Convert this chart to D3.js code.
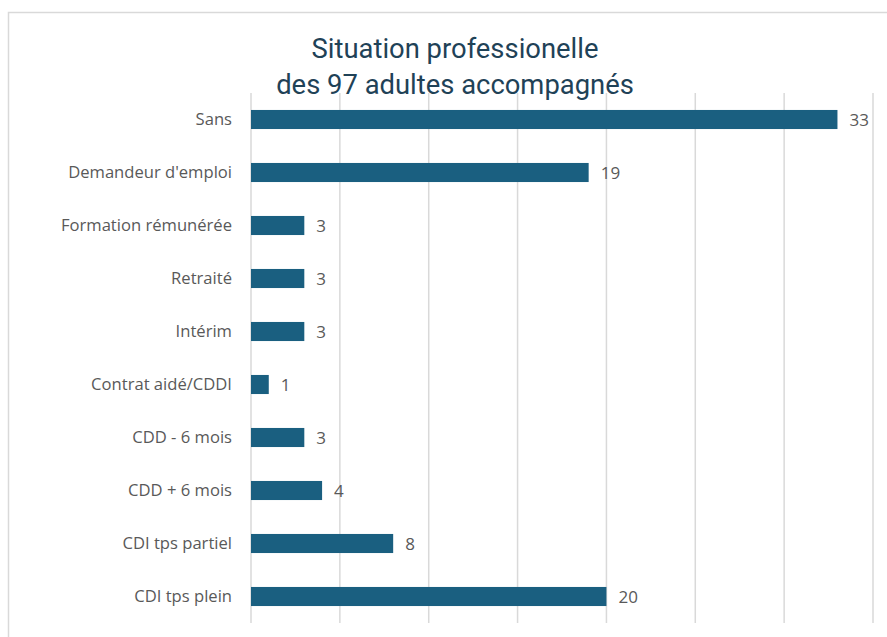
<!DOCTYPE html>
<html>
<head>
<meta charset="utf-8">
<script src="https://cdnjs.cloudflare.com/ajax/libs/d3/7.8.5/d3.min.js"></script>
<style>
	body { margin: 0; background: #fff; }
	svg { display: block; }
</style>
</head>
<body>
<div id="chart"></div>
<script>
// categories, top to bottom
const categories = [
	'Sans',
	"Demandeur d'emploi",
	'Formation rémunérée',
	'Retraité',
	'Intérim',
	'Contrat aidé/CDDI',
	'CDD - 6 mois',
	'CDD + 6 mois',
	'CDI tps partiel',
	'CDI tps plein'
];
const counts = [33, 19, 3, 3, 3, 1, 3, 4, 8, 20];
const xTicks = [0, 5, 10, 15, 20, 25, 30, 35];
const titleLines = ['Situation professionelle', 'des 97 adultes accompagnés'];

const width = 887,
	height = 637;
const margin = {
	left: 251,
	right: 14,
	top: 93,
	bottom: 14
};
const plotBottom = 623;

const svg = d3.select('#chart').append('svg')
	.attr('width', width)
	.attr('height', height);

// chart frame
svg.append('rect')
	.attr('x', 8.5)
	.attr('y', 12.5)
	.attr('width', width)
	.attr('height', height)
	.attr('fill', '#fff')
	.attr('stroke', '#d9d9d9')
	.attr('stroke-width', 1.5);

const x = d3.scaleLinear()
	.domain([0, 35])
	.range([margin.left, 873]);

const y = d3.scaleBand()
	.domain(categories)
	.range([margin.top, plotBottom])
	.paddingInner(0.64)
	.paddingOuter(0.32);

// vertical gridlines
svg.append('g')
	.selectAll('line')
	.data(xTicks)
	.join('line')
	.attr('x1', d => x(d))
	.attr('x2', d => x(d))
	.attr('y1', margin.top)
	.attr('y2', plotBottom)
	.attr('stroke', '#d9d9d9')
	.attr('stroke-width', 1.5);

// bars
svg.append('g')
	.selectAll('rect')
	.data(categories)
	.join('rect')
	.attr('x', x(0))
	.attr('y', d => y(d))
	.attr('width', (d, i) => x(counts[i]) - x(0))
	.attr('height', y.bandwidth())
	.attr('fill', '#1a5f80');

// category labels (left axis, no line)
const yAxis = d3.axisLeft(y).tickSize(0).tickPadding(19);
const gY = svg.append('g')
	.attr('transform', 'translate(' + margin.left + ',0)')
	.call(yAxis);
gY.select('.domain').remove();
gY.selectAll('text')
	.attr('font-family', '"Open Sans", sans-serif')
	.attr('font-size', 16.6)
	.attr('fill', '#595959');

// value labels
svg.append('g')
	.selectAll('text')
	.data(categories)
	.join('text')
	.attr('x', (d, i) => x(counts[i]) + 12)
	.attr('y', d => y(d) + y.bandwidth() / 2)
	.attr('dy', '0.36em')
	.attr('font-family', '"Open Sans", sans-serif')
	.attr('font-size', 17)
	.attr('fill', '#595959')
	.text((d, i) => counts[i]);

// title
svg.append('g')
	.selectAll('text')
	.data(titleLines)
	.join('text')
	.attr('x', 455)
	.attr('y', (d, i) => 57.5 + i * 36.5)
	.attr('text-anchor', 'middle')
	.attr('font-family', 'Roboto, sans-serif')
	.attr('font-size', 27.4)
	.attr('fill', '#1f4257')
	.text(d => d);
</script>
</body>
</html>
